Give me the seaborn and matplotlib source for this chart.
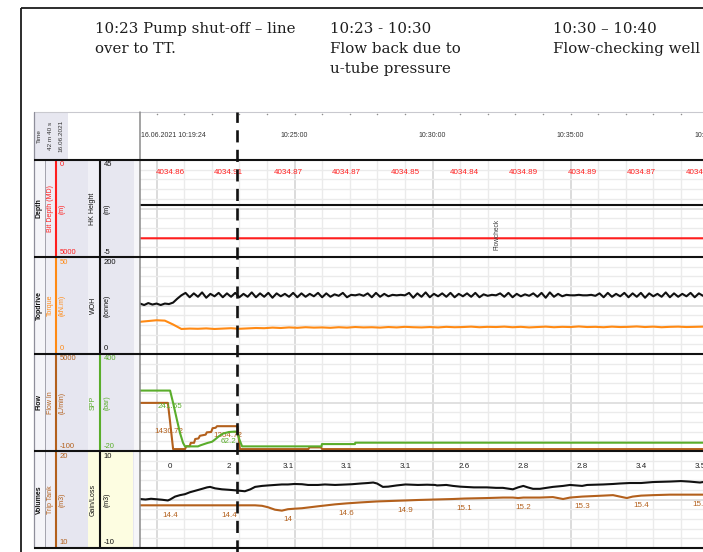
import numpy as np
import matplotlib
matplotlib.use("Agg")
import matplotlib.pyplot as plt
import seaborn as sns
from matplotlib.patches import Rectangle

sns.set_theme(style="white")
plt.rcParams["font.family"] = ["Liberation Sans", "DejaVu Sans"]
plt.rcParams["lines.solid_joinstyle"] = "round"

# ------------------------------------------------------------------
# Log window (all times are minutes past 10:00)
# ------------------------------------------------------------------
window_date = "16.06.2021"
window_start_clock = "10:19:24"
window_span_text = "42 m 40 s"
window_start_min = 19.4
window_visible_min = 20.4

clock_label_min = [25, 30, 35, 40]
clock_labels = ["10:25:00", "10:30:00", "10:35:00", "10:40:00"]

pump_off_min = 22.917          # 10:22:55
flowcheck_min = 32.33          # 10:32:20
flowcheck_text = "Flowcheck"

# read-out times of the value labels printed on the tracks
label_min = [20.49, 22.62, 24.76, 26.89, 29.02, 31.16, 33.29, 35.42, 37.56, 39.69]

# ---- Depth track ----
bit_depth_min = [19.40, 20.49, 22.62, 24.76, 26.89, 29.02, 31.16, 33.29, 35.42,
                 37.56, 39.69, 39.80]
bit_depth_m = [4034.86, 4034.86, 4034.91, 4034.87, 4034.87, 4034.85, 4034.84,
               4034.89, 4034.89, 4034.87, 4034.86, 4034.86]
hk_height_min = [19.40, 39.80]
hk_height_m = [21.8, 21.8]

# ---- Topdrive track ----
woh_start_min, woh_step_min = 19.40, 0.15
woh_tonne = [
    104, 101, 105, 102, 104, 101, 104, 103, 106, 114, 121,
    126, 117, 125, 118, 127, 116, 124, 119, 126, 117,
    125, 118, 126, 117, 124, 118, 127, 117, 125, 118,
    126, 116, 125, 119, 124, 118, 126, 117, 125, 118,
    124, 119, 126, 117, 125, 118, 123, 120, 126, 117,
    122, 121, 123, 120, 125, 117, 126, 118, 124, 119,
    122, 121, 122, 121, 126, 116, 125, 118, 127, 117,
    124, 119, 125, 118, 126, 117, 124, 119, 125, 118,
    126, 117, 123, 120, 122, 121, 125, 118, 126, 117,
    124, 119, 123, 120, 125, 118, 126, 116, 127, 118,
    124, 119, 122, 121, 121, 122, 121, 121, 122, 120,
    125, 117, 126, 118, 124, 119, 126, 117, 125, 118,
    126, 116, 125, 119, 124, 118, 127, 117, 125, 118,
    124, 119, 126, 117, 125, 120,
]
torque_start_min, torque_step_min = 19.40, 0.30
torque_knm = [
    16.6, 17.0, 17.4, 17.2, 15.2,
    12.9, 13.1, 13.0, 13.2, 12.9, 13.1, 13.3, 13.0, 13.2, 13.4,
    13.3, 13.6, 13.4, 13.7, 13.5, 13.8, 13.6, 13.7, 13.5, 13.8,
    13.6, 13.9, 13.7, 13.8, 13.6, 13.9, 13.7, 14.0, 13.8, 13.7,
    13.9, 13.7, 14.0, 13.8, 13.9, 14.1, 13.8, 14.0, 13.9, 14.1,
    13.8, 14.0, 13.7, 13.9, 14.1, 13.8, 14.0, 13.9, 14.2, 13.9,
    14.0, 13.8, 14.1, 13.9, 14.0, 14.2, 13.9, 14.1, 13.8, 14.0,
    14.1, 13.9, 14.0, 14.1,
]

# ---- Flow track ----
flow_in_min = [19.40, 20.41, 20.49, 20.60, 21.03, 21.08, 21.20, 21.24, 21.36, 21.40,
               21.52, 21.57, 21.78, 21.82, 21.98, 22.03, 22.14, 22.19, 22.62, 22.93,
               23.02, 25.50, 25.54, 25.96, 26.00, 39.80]
flow_in_lpm = [2430, 2430, 1430.72, 0, 0, 150, 150, 330, 330, 530,
               560, 700, 760, 880, 900, 1100, 1120, 1204.72, 1204.72, 1204.72,
               0, 0, 90, 90, 0, 0]
spp_min = [19.40, 20.41, 20.49, 20.60, 20.74, 20.85, 20.96, 21.03, 21.50, 21.60,
           21.85, 22.01, 22.12, 22.23, 22.40, 22.62, 22.84, 22.92, 23.00, 23.10,
           25.98, 25.99, 27.19, 27.20, 39.80]
spp_bar = [241.65, 241.65, 241.65, 188, 114, 58, 15, 0, 0, 5,
           15, 20, 30, 41, 55, 62.2, 64, 64, 30, 0,
           0, 10, 10, 16, 16]
flow_label_count = 2

# ---- Volumes track ----
trip_tank_min = [19.40, 20.49, 22.62, 23.57, 23.82, 24.04, 24.29, 24.54, 24.76, 25.00,
                 25.27, 25.85, 26.47, 26.89, 27.40, 27.99, 28.50, 29.02, 29.47, 30.09,
                 30.74, 31.16, 31.97, 32.55, 32.91, 33.10, 33.29, 33.89, 34.36, 34.73,
                 34.98, 35.42, 36.18, 36.54, 36.79, 37.04, 37.25, 37.56, 38.00, 38.60,
                 39.22, 39.69, 39.80]
trip_tank_m3 = [14.4, 14.4, 14.4, 14.4, 14.35, 14.2, 13.95, 13.85, 14.0, 14.05,
                14.1, 14.3, 14.5, 14.6, 14.7, 14.8, 14.85, 14.9, 14.95, 15.0,
                15.05, 15.1, 15.15, 15.2, 15.2, 15.15, 15.2, 15.2, 15.25, 15.05,
                15.2, 15.3, 15.4, 15.45, 15.3, 15.15, 15.3, 15.4, 15.45, 15.5,
                15.5, 15.5, 15.5]
gain_loss_min = [19.40, 19.60, 19.80, 20.00, 20.20, 20.41, 20.49, 20.67, 20.85, 21.03,
                 21.21, 21.40, 21.65, 21.83, 21.94, 22.12, 22.37, 22.62, 22.84, 23.02,
                 23.20, 23.40, 23.57, 23.82, 24.04, 24.29, 24.54, 24.76, 25.00, 25.27,
                 25.49, 25.85, 26.10, 26.47, 26.89, 27.08, 27.40, 27.66, 27.85, 27.99,
                 28.20, 28.39, 28.70, 29.02, 29.47, 29.80, 30.09, 30.16, 30.50, 30.74,
                 31.00, 31.16, 31.50, 31.97, 32.30, 32.55, 32.91, 33.10, 33.29, 33.45,
                 33.64, 33.89, 34.36, 34.73, 34.98, 35.20, 35.42, 35.60, 36.18, 36.54,
                 36.79, 37.15, 37.56, 37.99, 38.60, 39.00, 39.30, 39.69, 39.80]
gain_loss_m3 = [0.1, 0.0, 0.15, 0.05, -0.05, -0.2, 0.0, 0.6, 0.9, 1.1,
                1.5, 1.8, 2.2, 2.5, 2.6, 2.3, 2.1, 2.0, 1.9, 1.8,
                1.7, 2.1, 2.6, 2.8, 2.9, 3.0, 3.1, 3.1, 3.2, 3.15,
                3.0, 3.0, 3.1, 3.0, 3.1, 3.15, 3.3, 3.4, 3.5, 3.3,
                2.6, 2.65, 2.9, 3.1, 3.0, 3.05, 3.0, 2.9, 3.0, 2.8,
                2.65, 2.6, 2.5, 2.5, 2.4, 2.4, 2.1, 2.5, 2.8, 2.5,
                2.2, 2.2, 2.6, 2.8, 3.0, 2.9, 2.8, 3.0, 3.1, 3.2,
                3.3, 3.4, 3.4, 3.6, 3.7, 3.8, 3.7, 3.5, 3.6]

# ---- Notes above the log ----
note_blocks = [
    ["10:23 Pump shut-off – line", "over to TT."],
    ["10:23 - 10:30", "Flow back due to", "u-tube pressure"],
    ["10:30 – 10:40", "Flow-checking well"],
]

# ------------------------------------------------------------------
# Styling
# ------------------------------------------------------------------
RED = "#ff1f1f"
ORANGE = "#ff8a14"
BROWN = "#b3601c"
GREEN = "#5aad2b"
BLACK = "#111111"

# (track name, curve 1, curve 2); curve = (name, unit, top value, bottom value, colour)
tracks = [
    ("Depth", ("Bit Depth (MD)", "(m)", 0, 5000, RED), ("HK Height", "(m)", 45, -5, BLACK)),
    ("Topdrive", ("Torque", "(kN.m)", 50, 0, ORANGE), ("WOH", "(tonne)", 200, 0, BLACK)),
    ("Flow", ("Flow In", "(L/min)", 5000, -100, BROWN), ("SPP", "(bar)", 400, -20, GREEN)),
    ("Volumes", ("Trip Tank", "(m3)", 20, 10, BROWN), ("Gain/Loss", "(m3)", 10, -10, BLACK)),
]

W, H = 703, 552
fig = plt.figure(figsize=(W / 100, H / 100), dpi=100)


def px_rect(x0, y0, x1, y1):
    return [x0 / W, 1 - y1 / H, (x1 - x0) / W, (y1 - y0) / H]


CH_X0, CH_X1 = 140, W
PANEL_X0 = 34
HDR_TOP, HDR_BOT = 112, 160
TRACK_TOPS = [160, 257, 354, 451]
TRACK_H = 97
XLIM = (window_start_min, window_start_min + window_visible_min)


def fmt(v, nd):
    s = f"{v:.{nd}f}"
    if "." in s:
        s = s.rstrip("0").rstrip(".")
    return s


# ---------------- background layer (pixel coordinates) ----------------
deco = fig.add_axes([0, 0, 1, 1])
deco.set_xlim(0, W)
deco.set_ylim(H, 0)
deco.axis("off")
deco.set_zorder(0)

deco.plot([21, 21], [8, H], color="#1b1b1b", lw=1.3, solid_capstyle="butt")
deco.plot([21, W], [8, 8], color="#1b1b1b", lw=1.3, solid_capstyle="butt")

for x, block in zip([95, 330, 553], note_blocks):
    for i, line in enumerate(block):
        deco.text(x, 33 + 20 * i, line, family="DejaVu Serif", fontsize=10.8,
                  color="#1e1e1e", va="baseline", ha="left")

# header block of the left panel
deco.add_patch(Rectangle((PANEL_X0, HDR_TOP), 34, HDR_BOT - HDR_TOP, color="#e7e7f0", lw=0))
for x, s in [(39, "Time"), (50, window_span_text), (61, window_date)]:
    deco.text(x, 136, s, rotation=90, ha="center", va="center", fontsize=4.6, color="#333333")

stripes = [(34, 45, "#f5f5f9"), (45, 56, "#efeff6"), (56, 88, "#e6e6f0"),
           (88, 100, "#f0f0f6"), (100, 134, "#e7e7f0"), (134, 140, "#f6f6f9")]
for (tname, c1, c2), top in zip(tracks, TRACK_TOPS):
    bot = top + TRACK_H
    mid = (top + bot) / 2
    for x0, x1, col in stripes:
        deco.add_patch(Rectangle((x0, top), x1 - x0, TRACK_H, color=col, lw=0))
    if tname == "Volumes":
        deco.add_patch(Rectangle((88, top), 45, TRACK_H, color="#fdfde1", lw=0))
    deco.text(39, mid, tname, rotation=90, ha="center", va="center", fontsize=5,
              weight="bold", color=BLACK)
    for (name, unit, vtop, vbot, col), xname, xline, xval, xunit in [
        (c1, 50, 56, 59.5, 62.5), (c2, 93, 100, 103.5, 107)
    ]:
        deco.text(xname, mid, name, rotation=90, ha="center", va="center", fontsize=5, color=col)
        deco.text(xunit, mid, unit, rotation=90, ha="center", va="center", fontsize=5, color=col)
        deco.plot([xline, xline], [top, bot], color=col, lw=1.5, solid_capstyle="butt")
        deco.text(xval, top + 5, fmt(vtop, 0), ha="left", va="center", fontsize=5.5, color=col)
        deco.text(xval, bot - 5, fmt(vbot, 0), ha="left", va="center", fontsize=5.5, color=col)

# ---------------- header with clock labels ----------------
hdr = fig.add_axes(px_rect(CH_X0, HDR_TOP, CH_X1, HDR_BOT))
hdr.set_zorder(1)
hdr.patch.set_alpha(0)
hdr.set_xlim(*XLIM)
hdr.set_ylim(0, 1)
hdr.axis("off")
minute_marks = np.arange(20, 40)
hdr.scatter(minute_marks, np.full(len(minute_marks), 0.965), s=1.2, color="#8c8c8c", lw=0)
hdr.text(window_start_min + 0.05, 0.52, f"{window_date} {window_start_clock}",
         ha="left", va="center", fontsize=5, color="#333333")
for t, s in zip(clock_label_min, clock_labels):
    hdr.text(t, 0.52, s, ha="center", va="center", fontsize=5, color="#333333")


# ---------------- tracks ----------------
def make_track(top):
    ax = fig.add_axes(px_rect(CH_X0, top, CH_X1, top + TRACK_H))
    ax.set_zorder(1)
    ax.patch.set_alpha(0)
    ax.set_xlim(*XLIM)
    ax.set_ylim(0, 10)
    ax.set_xticks(np.arange(20, 40, 5))
    ax.set_xticks(np.arange(20, 40, 1), minor=True)
    ax.set_yticks([0, 5, 10])
    ax.set_yticks(np.arange(1, 10), minor=True)
    ax.grid(which="minor", color="#ebebeb", lw=1.0)
    ax.grid(which="major", axis="x", color="#d9d9d9", lw=1.3)
    ax.grid(which="major", axis="y", color="#dedede", lw=1.3)
    ax.tick_params(which="both", length=0, labelbottom=False, labelleft=False)
    for s in ax.spines.values():
        s.set_visible(False)
    return ax


def curve(base, t, v, vtop, vbot, color, lw=1.5):
    ax = base.twinx()
    ax.set_zorder(2)
    sns.lineplot(x=list(t), y=list(v), ax=ax, color=color, linewidth=lw,
                 estimator=None, sort=False, legend=False)
    ax.set_ylim(vbot, vtop)
    ax.axis("off")
    return ax


bases = [make_track(top) for top in TRACK_TOPS]
(d1, d2), (t1, t2), (f1, f2), (v1, v2) = [(c1, c2) for _, c1, c2 in tracks]

# Depth
ax_bd = curve(bases[0], bit_depth_min, bit_depth_m, d1[2], d1[3], RED)
ax_hk = curve(bases[0], hk_height_min, hk_height_m, d2[2], d2[3], BLACK)
for t in label_min:
    ax_bd.text(t, 0.866, fmt(np.interp(t, bit_depth_min, bit_depth_m), 2),
               transform=ax_bd.get_xaxis_transform(), ha="center", va="center",
               fontsize=5.8, color=RED)
ax_bd.text(flowcheck_min, 0.237, flowcheck_text, transform=ax_bd.get_xaxis_transform(),
           rotation=90, ha="center", va="center", fontsize=4.8, color="#444444")

# Topdrive
woh_min = woh_start_min + woh_step_min * np.arange(len(woh_tonne))
torque_min = torque_start_min + torque_step_min * np.arange(len(torque_knm))
curve(bases[1], torque_min, torque_knm, t1[2], t1[3], ORANGE)
curve(bases[1], woh_min, woh_tonne, t2[2], t2[3], BLACK)

# Flow
ax_fi = curve(bases[2], flow_in_min, flow_in_lpm, f1[2], f1[3], BROWN)
ax_sp = curve(bases[2], spp_min, spp_bar, f2[2], f2[3], GREEN)
spp_label_drop = [11.5, 6.8]
for t, drop in zip(label_min[:flow_label_count], spp_label_drop):
    v = np.interp(t, spp_min, spp_bar)
    ax_sp.annotate(fmt(v, 2), (t, v), xytext=(0, -drop), textcoords="offset points",
                   ha="center", va="center", fontsize=5.8, color=GREEN)
for t in label_min[:flow_label_count]:
    v = np.interp(t, flow_in_min, flow_in_lpm)
    ax_fi.annotate(fmt(v, 2), (t, v), xytext=(-1, -7), textcoords="offset points",
                   ha="center", va="center", fontsize=5.8, color=BROWN)

# Volumes
ax_tt = curve(bases[3], trip_tank_min, trip_tank_m3, v1[2], v1[3], BROWN)
ax_gl = curve(bases[3], gain_loss_min, gain_loss_m3, v2[2], v2[3], BLACK)
for t in label_min:
    vt = np.interp(t, trip_tank_min, trip_tank_m3)
    ax_tt.annotate(fmt(vt, 1), (t, vt), xytext=(0, -7.2), textcoords="offset points",
                   ha="center", va="center", fontsize=5.8, color=BROWN)
    vg = np.interp(t, gain_loss_min, gain_loss_m3)
    ax_gl.text(t, 0.845, fmt(vg, 1), transform=ax_gl.get_xaxis_transform(),
               ha="center", va="center", fontsize=5.8, color="#222222")

for b in bases:
    b.set_xlim(*XLIM)

# ---------------- frame lines on top ----------------
fore = fig.add_axes([0, 0, 1, 1])
fore.set_xlim(0, W)
fore.set_ylim(H, 0)
fore.axis("off")
fore.set_zorder(10)
fore.patch.set_alpha(0)
fore.plot([PANEL_X0, W], [HDR_TOP, HDR_TOP], color="#c9c9cf", lw=0.8)
fore.plot([PANEL_X0, PANEL_X0], [HDR_TOP, 548], color="#8e8e9a", lw=0.9)
fore.plot([45, 45], [HDR_BOT, 548], color="#a3a3ad", lw=0.7)
fore.plot([CH_X0, CH_X0], [HDR_TOP, 548], color="#8a8a8a", lw=1.1)
for y in TRACK_TOPS + [TRACK_TOPS[-1] + TRACK_H]:
    fore.plot([PANEL_X0, W], [y, y], color=BLACK, lw=1.5, solid_capstyle="butt")

# pump shut-off marker across header and all tracks
ev = fig.add_axes(px_rect(CH_X0, HDR_TOP, CH_X1, H))
ev.set_zorder(11)
ev.patch.set_alpha(0)
ev.set_xlim(*XLIM)
ev.set_ylim(0, 1)
ev.axis("off")
ev.axvline(pump_off_min, color=BLACK, lw=1.9, linestyle=(0, (4.6, 2.8)))

fig.savefig("out.png", dpi=100)
